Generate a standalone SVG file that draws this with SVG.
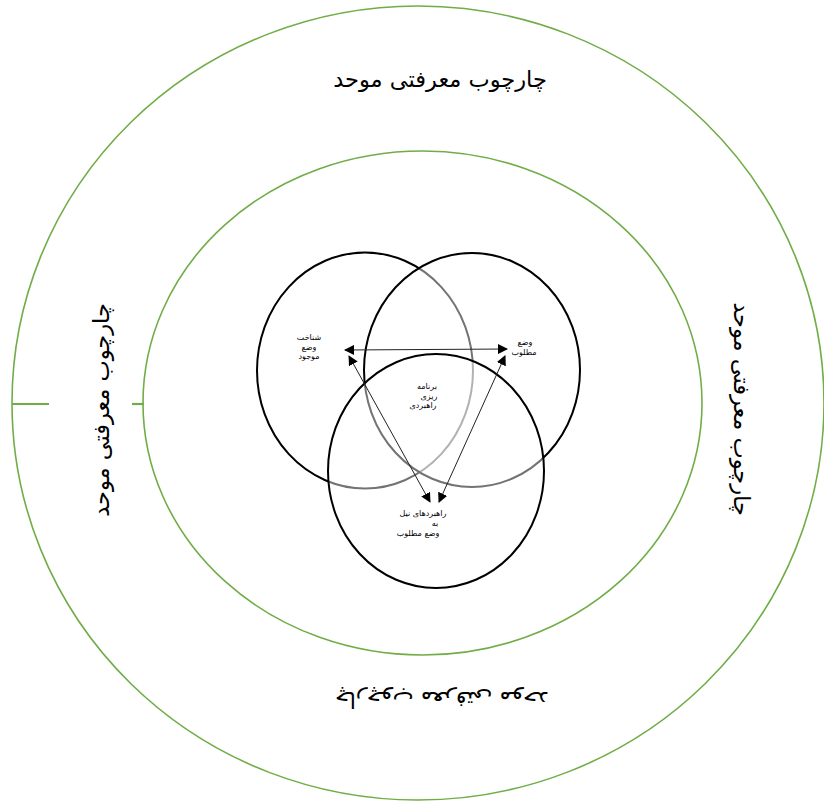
<svg xmlns="http://www.w3.org/2000/svg" width="824" height="801" viewBox="0 0 824 801">
<style>
.ring{fill:none;stroke:#70ad47;stroke-width:1.6}
.tick{stroke:#70ad47;stroke-width:2.2;fill:none}
.venn{fill:#ffffff;fill-opacity:0.45;stroke:#000;stroke-width:2}
.big{font-family:"DejaVu Sans",sans-serif;font-size:22.5px;fill:#000;text-anchor:middle}
.small{font-family:"DejaVu Sans",sans-serif;font-size:8px;fill:#000;text-anchor:middle}
.conn{stroke:#222;stroke-width:1;fill:none;marker-start:url(#ah);marker-end:url(#ah)}
</style>
<defs>
<marker id="ah" markerUnits="userSpaceOnUse" markerWidth="10" markerHeight="10" refX="9" refY="5" orient="auto-start-reverse">
<path d="M0,0 L10,5 L0,10 z" fill="#000"/>
</marker>
</defs>
<rect width="824" height="801" fill="#fff"/>
<g id="outer-ring">
<ellipse class="ring" cx="418" cy="403" rx="406" ry="397"/>
<line class="tick" x1="12" y1="404" x2="49" y2="404"/>
<text class="big" transform="translate(440,87)">چارچوب معرفتی موحد</text>
<text class="big" transform="translate(109,410) rotate(-90)">چارچوب معرفتی موحد</text>
<text class="big" transform="translate(734,409) rotate(90)">چارچوب معرفتی موحد</text>
<text class="big" transform="translate(442,692) rotate(180)">چارچوب معرفتی موحد</text>
</g>
<g id="inner-ring">
<ellipse class="ring" cx="422.5" cy="403" rx="279.5" ry="252"/>
<line class="tick" x1="132" y1="404" x2="144" y2="404"/>
</g>
<g id="circle-current">
<ellipse class="venn" cx="365" cy="370.5" rx="108" ry="118"/>
</g>
<g id="circle-desired">
<ellipse class="venn" cx="472" cy="370" rx="108" ry="117"/>
</g>
<g id="circle-strategies">
<ellipse class="venn" cx="436" cy="471" rx="108" ry="117"/>
</g>
<g id="connectors">
<line class="conn" x1="345" y1="350" x2="507" y2="349"/>
<line class="conn" x1="349" y1="356" x2="430" y2="502"/>
<line class="conn" x1="505" y1="356" x2="439" y2="502"/>
</g>
<g id="label-current">
<text class="small" x="309" y="340">شناخت</text>
<text class="small" x="309" y="349.5">وضع</text>
<text class="small" x="309" y="359">موجود</text>
</g>
<g id="label-desired">
<text class="small" x="525" y="345">وضع</text>
<text class="small" x="524" y="355">مطلوب</text>
</g>
<g id="label-planning">
<text class="small" x="427" y="389">برنامه</text>
<text class="small" x="429" y="398.5">ریزی</text>
<text class="small" x="423" y="408">راهبردی</text>
</g>
<g id="label-strategies">
<text class="small" x="423" y="516">راهبردهای نیل</text>
<text class="small" x="435" y="526">به</text>
<text class="small" x="418" y="536">وضع مطلوب</text>
</g>
</svg>
